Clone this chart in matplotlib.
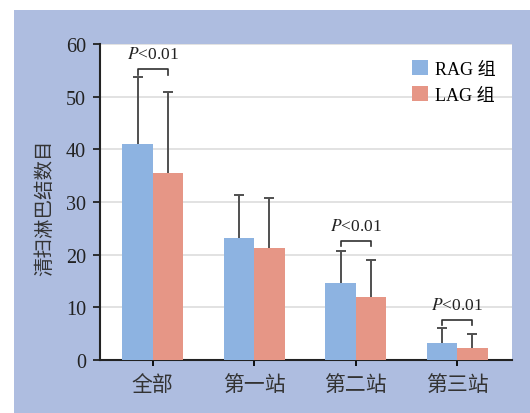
import matplotlib
matplotlib.use("Agg")
import matplotlib.pyplot as plt
import matplotlib.patches as mpatches
import numpy as np

plt.rcParams['font.family'] = ['Liberation Serif', 'Noto Sans CJK SC']
plt.rcParams['mathtext.fontset'] = 'stix'

# --- données ---
stations = ['全部', '第一站', '第二站', '第三站']
rag_mean = [41.0, 23.2, 14.6, 3.2]
rag_sd = [12.8, 8.1, 6.1, 2.9]
lag_mean = [35.5, 21.3, 12.0, 2.3]
lag_sd = [15.4, 9.5, 7.0, 2.6]
p_labels = ['$P$<0.01', None, '$P$<0.01', '$P$<0.01']
p_heights = [55.2, None, 22.6, 7.6]
y_ticks = [0, 10, 20, 30, 40, 50, 60]

c_rag = '#8DB3E1'
c_lag = '#E69686'
c_panel = '#AEBDE0'
c_err = '#505050'

fig = plt.figure(figsize=(5.30, 4.14), dpi=100)
fig.patch.set_facecolor('white')
panel = mpatches.Rectangle((14 / 530, 0), 1 - 14 / 530, (414 - 11) / 414,
                           transform=fig.transFigure, facecolor=c_panel,
                           edgecolor='none', zorder=-5)
fig.add_artist(panel)

ax = fig.add_axes([100 / 530, (414 - 361) / 414, 412 / 530, 316 / 414])
ax.set_zorder(2)
ax.set_facecolor('white')

x = np.arange(len(stations))
w = 0.30

ax.bar(x - w / 2, rag_mean, w, color=c_rag, label='RAG 组', zorder=3)
ax.bar(x + w / 2, lag_mean, w, color=c_lag, label='LAG 组', zorder=3)

# barres d'erreur (seulement vers le haut)
for xs, m, sd in [(x - w / 2, rag_mean, rag_sd), (x + w / 2, lag_mean, lag_sd)]:
    top = np.array(m) + np.array(sd)
    ax.vlines(xs, m, top, color=c_err, lw=1.4, zorder=2)
    ax.plot(xs, top, ls='none', marker='_', markersize=7, mew=1.4, color=c_err, zorder=2)

# crochets de significativité
for xi, lab, h in zip(x, p_labels, p_heights):
    if lab is None:
        continue
    ax.plot([xi - w / 2, xi - w / 2, xi + w / 2, xi + w / 2], [h - 1.0, h, h, h - 1.0],
            color='#303030', lw=1.2, zorder=4)
    ax.text(xi, h + 1.3, lab, ha='center', va='bottom', fontsize=12.5, color='#222222')

ax.set_xlim(-0.52, 3.54)
ax.set_ylim(0, 60)
ax.set_yticks(y_ticks)
ax.set_xticks(x)
ax.set_xticklabels(stations, fontsize=15, color='#333333')
ax.tick_params(axis='y', labelsize=14.5, length=5, width=1.3, pad=5, colors='#222222')
ax.tick_params(axis='x', length=4, width=1.3, pad=7)

ax.yaxis.grid(True, color='#DDDDDD', lw=1.2, zorder=0)
ax.set_axisbelow(True)

for s in ['top', 'right']:
    ax.spines[s].set_visible(False)
for s in ['left', 'bottom']:
    ax.spines[s].set_color('#222222')
    ax.spines[s].set_linewidth(1.5)

ax.set_ylabel('清扫淋巴结数目', fontsize=14, color='#333333')
ax.yaxis.set_label_coords(-0.11, 0.484)

ax.legend(loc='upper right', frameon=False, fontsize=13, handlelength=0.9,
          handleheight=0.9, handletextpad=0.4, labelspacing=0.45,
          bbox_to_anchor=(1.0, 1.0))

fig.savefig('out.png', dpi=100, facecolor=fig.get_facecolor())
